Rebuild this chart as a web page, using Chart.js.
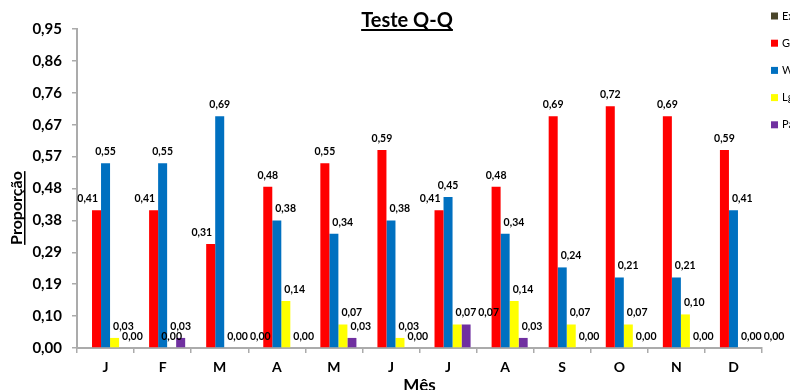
<!DOCTYPE html>
<html>
<head>
<meta charset="utf-8">
<script src="https://cdn.jsdelivr.net/npm/chart.js@4.4.1/dist/chart.umd.min.js"></script>
<style>
  html, body { margin: 0; padding: 0; background: #fff; }
  #wrap { width: 790px; height: 390px; }
</style>
</head>
<body>
<div id="wrap"><canvas id="chart1"></canvas></div>
<script>
// months and series values (proportions)
var months = ['J', 'F', 'M', 'A', 'M', 'J', 'J', 'A', 'S', 'O', 'N', 'D'];
var seriesNames = ['Exponencial', 'Gama', 'Weibull', 'Lgnormal', 'Pareto'];
var exValues = [null, null, null, null, null, null, null, null, null, null, null, null];
var gValues  = [0.41, 0.41, 0.31, 0.48, 0.55, 0.59, 0.41, 0.48, 0.69, 0.72, 0.69, 0.59];
var wValues  = [0.55, 0.55, 0.69, 0.38, 0.34, 0.38, 0.45, 0.34, 0.24, 0.21, 0.21, 0.41];
var lgValues = [0.03, 0.00, 0.00, 0.14, 0.07, 0.03, 0.07, 0.14, 0.07, 0.07, 0.10, 0.00];
var paValues = [0.00, 0.03, 0.00, 0.00, 0.03, 0.00, 0.07, 0.03, 0.00, 0.00, 0.00, 0.00];
var yTickValues = [0, 0.095, 0.19, 0.285, 0.38, 0.475, 0.57, 0.665, 0.76, 0.855, 0.95];
var yTickLabels = ['0,00', '0,10', '0,19', '0,29', '0,38', '0,48', '0,57', '0,67', '0,76', '0,86', '0,95'];

var colors = ['#4a452a', '#ff0000', '#0070c0', '#ffff00', '#7030a0'];
var font = 'Lato, "Liberation Sans", sans-serif';
var axisGray = '#ababab';

// title, axis titles, legend and value labels drawn by hand
var decorPlugin = {
  id: 'decor',
  afterDatasetsDraw: function(chart) {
    var ctx = chart.ctx;
    var area = chart.chartArea;
    ctx.save();
    ctx.fillStyle = '#000';

    // value labels: keep clear of a taller neighbour bar, then of each other
    ctx.font = 'bold 10.5px ' + font;
    ctx.textAlign = 'left';
    ctx.textBaseline = 'alphabetic';
    var nds = chart.data.datasets.length;
    for (var i = 0; i < months.length; i++) {
      var placed = [];
      for (var d = 0; d < nds; d++) {
        var v = chart.data.datasets[d].data[i];
        if (v === null) continue;
        var bar = chart.getDatasetMeta(d).data[i];
        var txt = v.toFixed(2).replace('.', ',');
        var w = ctx.measureText(txt).width;
        var x = bar.x - w / 2;
        var y = bar.y - 8;
        var half = bar.width / 2;
        var toLeft = null, toRight = null;
        [d + 1, d - 1].forEach(function(n) {
          if (n < 0 || n >= nds) return;
          var nv = chart.data.datasets[n].data[i];
          if (nv === null) return;
          var nb = chart.getDatasetMeta(n).data[i];
          if (nb.y > y) return;
          var nl = nb.x - half, nr = nb.x + half;
          if (x < nr && x + w > nl) {
            if (n > d) toLeft = nl - w - 3;
            else toRight = nr + 3;
          }
        });
        if (toLeft !== null && toRight === null) x = toLeft;
        if (toRight !== null && toLeft === null) x = toRight;
        placed.forEach(function(p) {
          if (x < p.x + p.w + 2 && x + w > p.x && Math.abs(y - p.y) < 10) x = p.x + p.w + 2;
        });
        placed.push({x: x, y: y, w: w});
        ctx.fillText(txt, x, y);
      }
    }

    // chart title, underlined
    ctx.font = 'bold 20px ' + font;
    ctx.textAlign = 'center';
    var title = 'Teste Q-Q';
    var tw = ctx.measureText(title).width;
    var tx = 407;
    ctx.fillText(title, tx, 27);
    ctx.fillRect(tx - tw / 2, 29, tw, 2);

    // y axis title, rotated and underlined
    ctx.save();
    ctx.translate(22, 208);
    ctx.rotate(-Math.PI / 2);
    ctx.font = 'bold 16px ' + font;
    var yt = 'Proporção';
    var yw = ctx.measureText(yt).width;
    ctx.fillText(yt, 0, 0);
    ctx.fillRect(-yw / 2, 2, yw, 1.5);
    ctx.restore();

    // x axis title
    ctx.font = 'bold 17px ' + font;
    ctx.fillText('Mês', (area.left + area.right) / 2, 391);

    // legend, running off the right edge
    ctx.font = '11px ' + font;
    ctx.textAlign = 'left';
    ctx.textBaseline = 'middle';
    seriesNames.forEach(function(name, k) {
      var cy = 16 + k * 27.2;
      ctx.fillStyle = colors[k];
      ctx.fillRect(771, cy - 3.5, 7, 7);
      ctx.fillStyle = '#000';
      ctx.fillText(name, 782, cy);
    });
    ctx.restore();
  }
};

var valueSets = [exValues, gValues, wValues, lgValues, paValues];
var ctx1 = document.getElementById('chart1').getContext('2d');
var chart1 = new Chart(ctx1, {
  type: 'bar',
  data: {
    labels: months,
    datasets: valueSets.map(function(vals, k) {
      return {
        label: seriesNames[k],
        data: vals,
        backgroundColor: colors[k],
        borderWidth: 0,
        categoryPercentage: 0.79,
        barPercentage: 1.0
      };
    })
  },
  options: {
    responsive: true,
    maintainAspectRatio: false,
    animation: false,
    layout: { padding: { top: 29, right: 28, left: 0, bottom: 0 } },
    plugins: {
      legend: { display: false },
      title: { display: false },
      tooltip: { enabled: false }
    },
    scales: {
      x: {
        afterFit: function(scale) { scale.height = 42; },
        grid: { display: true, drawOnChartArea: false, offset: true, tickLength: 5, color: axisGray, lineWidth: 1.5 },
        border: { display: true, color: axisGray, width: 2 },
        ticks: { color: '#000', padding: 6, font: { family: font, size: 14, weight: 'bold' } }
      },
      y: {
        min: 0,
        max: 0.95,
        afterFit: function(scale) { scale.width = 77; },
        afterBuildTicks: function(scale) {
          scale.ticks = yTickValues.map(function(v) { return {value: v}; });
        },
        grid: { display: true, drawOnChartArea: false, tickLength: 5, color: axisGray, lineWidth: 1.5 },
        border: { display: true, color: axisGray, width: 2 },
        ticks: {
          color: '#000',
          padding: 10,
          font: { family: font, size: 15, weight: 'bold' },
          callback: function(value, index) { return yTickLabels[index]; }
        }
      }
    }
  },
  plugins: [decorPlugin]
});
</script>
</body>
</html>
